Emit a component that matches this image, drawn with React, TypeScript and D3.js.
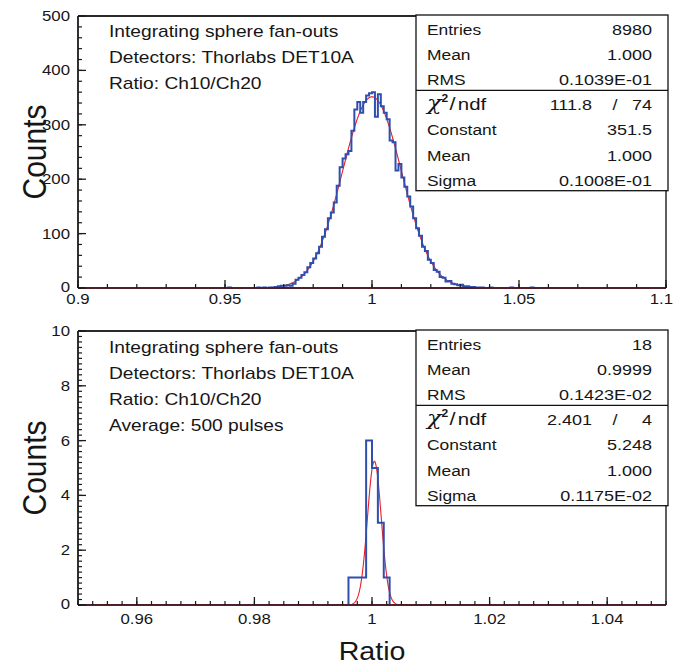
import React from "react";
import * as d3 from "d3";

// ---------- data ----------
const topLowEdge = 0.951;
const topBinWidth = 0.001;
const topCounts = [
  1, 0, 0, 0, 0, 0, 0, 0, 0, 0,
  1, 0, 1, 0, 1, 1, 2, 3, 4, 4,
  5, 4, 8, 15, 19, 24, 29, 38, 46, 54,
  64, 76, 94, 108, 128, 139, 157, 188, 222, 238,
  246, 252, 289, 328, 342, 322, 342, 354, 358, 360,
  315, 356, 334, 322, 310, 271, 268, 216, 228, 203,
  186, 168, 150, 128, 110, 96, 76, 68, 52, 46,
  33, 30, 20, 19, 12, 13, 8, 7, 5, 6,
  3, 3, 2, 2, 1, 1, 1, 0, 0, 1,
  0, 0, 0, 0, 0, 0, 1, 0, 0, 0,
  0, 0, 0, 1,
];
const botLowEdge = 0.996;
const botBinWidth = 0.001;
const botCounts = [1, 1, 1, 6, 5, 3, 1];

const topFit = { constant: 351.5, mean: 1.0, sigma: 0.01008 };
const botFit = { constant: 5.248, mean: 1.0004, sigma: 0.001175 };

const topXTicks = [0.9, 0.95, 1, 1.05, 1.1];
const topXTickLabels = ["0.9", "0.95", "1", "1.05", "1.1"];
const topYTicks = [0, 100, 200, 300, 400, 500];
const botXTicks = [0.96, 0.98, 1, 1.02, 1.04];
const botXTickLabels = ["0.96", "0.98", "1", "1.02", "1.04"];
const botYTicks = [0, 2, 4, 6, 8, 10];

const topPaveLines = [
  "Integrating sphere fan-outs",
  "Detectors: Thorlabs DET10A",
  "Ratio: Ch10/Ch20",
];
const botPaveLines = [
  "Integrating sphere fan-outs",
  "Detectors: Thorlabs DET10A",
  "Ratio: Ch10/Ch20",
  "Average: 500 pulses",
];

const topStats = [
  ["Entries", "8980"],
  ["Mean", "1.000"],
  ["RMS", "0.1039E-01"],
];
const topChi = ["111.8", "74"];
const topFitRows = [
  ["Constant", "351.5"],
  ["Mean", "1.000"],
  ["Sigma", "0.1008E-01"],
];
const botStats = [
  ["Entries", "18"],
  ["Mean", "0.9999"],
  ["RMS", "0.1423E-02"],
];
const botChi = ["2.401", "4"];
const botFitRows = [
  ["Constant", "5.248"],
  ["Mean", "1.000"],
  ["Sigma", "0.1175E-02"],
];

// ---------- style ----------
const FONT = "'Liberation Sans', Arial, Helvetica, sans-serif";
const SX = 1.2;
const TXT = "#161616";
const BLUE = "#2f4fae";
const RED = "#ee1c24";

function T({ x, y, anchor = "start", size = 14, sx = SX, children }: any) {
  return (
    <text
      transform={`translate(${x},${y}) scale(${sx},1)`}
      textAnchor={anchor}
      fontSize={size}
      fontFamily={FONT}
      fill={TXT}
    >
      {children}
    </text>
  );
}

function histPath(x: any, y: any, lo: number, w: number, counts: number[]) {
  const [d0, d1] = x.domain();
  const p = d3.path();
  p.moveTo(x(d0), y(0));
  p.lineTo(x(lo), y(0));
  counts.forEach((c, i) => {
    p.lineTo(x(lo + i * w), y(c));
    p.lineTo(x(lo + (i + 1) * w), y(c));
  });
  p.lineTo(x(lo + counts.length * w), y(0));
  p.lineTo(x(d1), y(0));
  return p.toString();
}

function fitPath(x: any, y: any, f: any) {
  const [d0, d1] = x.domain();
  const pts = d3.range(0, 801).map((i) => {
    const v = d0 + ((d1 - d0) * i) / 800;
    const z = (v - f.mean) / f.sigma;
    return [x(v), y(f.constant * Math.exp(-0.5 * z * z))] as [number, number];
  });
  return d3.line()(pts) || "";
}

function StatsBox({ top, rows, chi, fitRows }: any) {
  const left = 416;
  const right = 668;
  const rowH = 25.1;
  const bottom = top + rowH * 7;
  const div = top + rowH * 3;
  const lx = 427;
  const rx = 652;
  const LS = 14.5;
  const VS = 15;
  const base = (k: number) => top + 20 + rowH * k;
  return (
    <g>
      <rect x={left} y={top} width={right - left} height={bottom - top} fill="white" stroke="#111" strokeWidth={1.3} />
      <line x1={left} x2={right} y1={div} y2={div} stroke="#111" strokeWidth={1.3} />
      {rows.map((r: any, k: number) => (
        <g key={"s" + k}>
          <T x={lx} y={base(k)} size={LS}>{r[0]}</T>
          <T x={rx} y={base(k)} anchor="end" size={VS}>{r[1]}</T>
        </g>
      ))}
      <text transform={`translate(${lx},${base(3)}) scale(${SX},1)`} fontFamily={FONT} fill={TXT} fontSize={17}>
        <tspan fontStyle="italic" fontSize={20} fontFamily="'DejaVu Serif', serif">χ</tspan>
        <tspan fontSize={10} dy={-8} fontWeight="bold">2</tspan>
        <tspan dy={8} fontSize={18} dx={1}>/</tspan>
        <tspan fontSize={17} dx={2}>ndf</tspan>
      </text>
      <T x={592} y={base(3)} anchor="end" size={VS}>{chi[0]}</T>
      <T x={615} y={base(3)} anchor="middle" size={VS}>/</T>
      <T x={rx} y={base(3)} anchor="end" size={VS}>{chi[1]}</T>
      {fitRows.map((r: any, k: number) => (
        <g key={"f" + k}>
          <T x={lx} y={base(4 + k)} size={LS}>{r[0]}</T>
          <T x={rx} y={base(4 + k)} anchor="end" size={VS}>{r[1]}</T>
        </g>
      ))}
    </g>
  );
}

function Panel({ x, y, lo, w, counts, fit, xTicks, xLabels, xMinor, yTicks, yMinor, yFmt, xLabelY, pave, paveY, stats, chi, fitRows, statsTop, titleY }: any) {
  const [L, R] = x.range();
  const [B, Tp] = y.range();
  return (
    <g>
      <path d={fitPath(x, y, fit)} fill="none" stroke={RED} strokeWidth={1.1} />
      <path d={histPath(x, y, lo, w, counts)} fill="none" stroke={BLUE} strokeWidth={2} strokeLinejoin="miter" />
      {/* frame */}
      <line x1={L} x2={R} y1={Tp} y2={Tp} stroke="#2a2a2a" strokeWidth={2} />
      <line x1={R} x2={R} y1={Tp} y2={B} stroke="#2a2a2a" strokeWidth={1.5} />
      <line x1={L} x2={L} y1={Tp} y2={B} stroke="#1a1a1a" strokeWidth={1.8} />
      <line x1={L} x2={R} y1={B} y2={B} stroke="#4e2029" strokeWidth={2.2} />
      {/* x ticks */}
      {xMinor.map((v: number, i: number) => (
        <line key={"xm" + i} x1={x(v)} x2={x(v)} y1={B} y2={B - 4} stroke="#1a1a1a" strokeWidth={1.2} />
      ))}
      {xTicks.map((v: number, i: number) => {
        const last = i === xTicks.length - 1 && Math.abs(x(v) - R) < 1;
        return (
          <g key={"xt" + i}>
            <line x1={x(v)} x2={x(v)} y1={B} y2={B - 8} stroke="#1a1a1a" strokeWidth={1.3} />
            <T x={last ? 673 : x(v)} y={xLabelY} anchor={last ? "end" : "middle"}>{xLabels[i]}</T>
          </g>
        );
      })}
      {/* y ticks */}
      {yMinor.map((v: number, i: number) => (
        <line key={"ym" + i} x1={L} x2={L + 4} y1={y(v)} y2={y(v)} stroke="#1a1a1a" strokeWidth={1.2} />
      ))}
      {yTicks.map((v: number, i: number) => (
        <g key={"yt" + i}>
          <line x1={L} x2={L + 8} y1={y(v)} y2={y(v)} stroke="#1a1a1a" strokeWidth={1.3} />
          <T x={70} y={y(v) + (v === 0 ? 4 : 5)} anchor="end">{yFmt(v)}</T>
        </g>
      ))}
      {/* pave text */}
      {pave.map((s: string, i: number) => (
        <T key={"p" + i} x={109} y={paveY + 26 * i} size={16}>{s}</T>
      ))}
      <StatsBox top={statsTop} rows={stats} chi={chi} fitRows={fitRows} />
      {/* y title */}
      <text
        transform={`translate(46,${titleY}) scale(1.1,1) rotate(-90)`}
        textAnchor="middle"
        fontSize={30}
        fontFamily={FONT}
        fill={TXT}
      >
        Counts
      </text>
    </g>
  );
}

export default function App() {
  const xTop = d3.scaleLinear().domain([0.9, 1.1]).range([78, 666]);
  const yTop = d3.scaleLinear().domain([0, 500]).range([288, 16]);
  const xBot = d3.scaleLinear().domain([0.95, 1.05]).range([78, 666]);
  const yBot = d3.scaleLinear().domain([0, 10]).range([605, 331]);

  const topXMinor = d3.range(0, 21).map((i) => 0.9 + i * 0.01);
  const topYMinor = d3.range(0, 26).map((i) => i * 20);
  const botXMinor = d3.range(0, 41).map((i) => 0.95 + i * 0.0025);
  const botYMinor = d3.range(0, 51).map((i) => i * 0.2);

  return (
    <svg width={674} height={665} style={{ position: "absolute", left: 0, top: 0, background: "white" }}>
      <rect x={0} y={0} width={674} height={665} fill="white" />
      <Panel
        x={xTop} y={yTop} lo={topLowEdge} w={topBinWidth} counts={topCounts} fit={topFit}
        xTicks={topXTicks} xLabels={topXTickLabels} xMinor={topXMinor}
        yTicks={topYTicks} yMinor={topYMinor} yFmt={(v: number) => String(v)}
        xLabelY={304} pave={topPaveLines} paveY={37}
        stats={topStats} chi={topChi} fitRows={topFitRows} statsTop={15} titleY={152}
      />
      <Panel
        x={xBot} y={yBot} lo={botLowEdge} w={botBinWidth} counts={botCounts} fit={botFit}
        xTicks={botXTicks} xLabels={botXTickLabels} xMinor={botXMinor}
        yTicks={botYTicks} yMinor={botYMinor} yFmt={(v: number) => String(v)}
        xLabelY={624} pave={botPaveLines} paveY={353}
        stats={botStats} chi={botChi} fitRows={botFitRows} statsTop={330} titleY={468}
      />
      <text
        transform={`translate(372,660) scale(1.1,1)`}
        textAnchor="middle"
        fontSize={26}
        fontFamily={FONT}
        fill={TXT}
      >
        Ratio
      </text>
    </svg>
  );
}
